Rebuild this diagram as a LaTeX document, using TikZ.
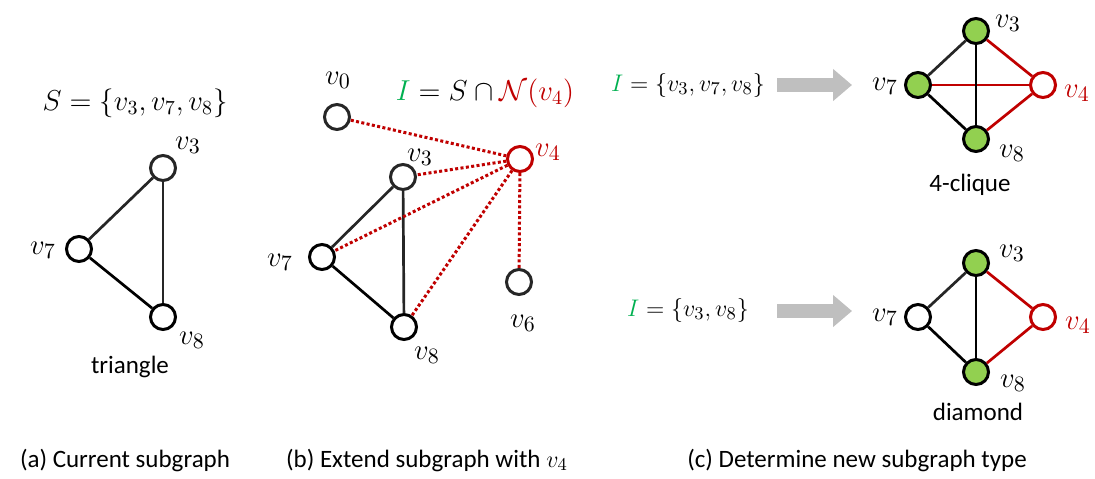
\documentclass[tikz,border=0pt]{standalone}
\usepackage{fontspec}
\setmainfont{Carlito}
\usetikzlibrary{arrows.meta}
\definecolor{nred}{HTML}{C00000}
\definecolor{ngreen}{HTML}{92D050}
\definecolor{igreen}{HTML}{00B050}
\definecolor{agray}{HTML}{BFBFBF}
\definecolor{egray}{HTML}{262626}
\begin{document}
\begin{tikzpicture}[x=0.5pt,y=-0.5pt,
  vtx/.style={circle,draw=egray,line width=1.5pt,minimum size=12.5pt,inner sep=0pt,fill=white},
  hit/.style={vtx,fill=ngreen},
  newv/.style={vtx,draw=nred},
  lab/.style={inner sep=0pt,font=\fontsize{15}{17}\selectfont},
  txt/.style={inner sep=0pt,font=\fontsize{12.5}{15}\selectfont},
  settxt/.style={inner sep=0pt,font=\fontsize{14}{16}\selectfont},
  edge/.style={egray,line width=1.35pt},
  redge/.style={nred,line width=1.35pt},
  dedge/.style={nred,line width=1.5pt,dash pattern=on 1.5pt off 1.2pt},
  bigarrow/.style={agray,line width=7pt,-{Triangle[length=9.5pt,width=15.5pt]}}]

  \useasboundingbox (0,0) rectangle (1095,478);

  % (a) current subgraph
  \node[settxt] (sset) at (135,103) {$S=\{v_3,v_7,v_8\}$};
  \node[vtx] (a3) at (163,168) {};
  \node[vtx,draw=black] (a7) at (79,249) {};
  \node[vtx,draw=black] (a8) at (163,317) {};
  \node[lab] (la3) at (188,145) {$v_3$};
  \node[lab] (la7) at (43,250) {$v_7$};
  \node[lab] (la8) at (192,340) {$v_8$};
  \draw[edge] (a3) -- (a7);
  \draw[edge] (a3) -- (a8);
  \draw[edge,black] (a7) -- (a8);
  \node[txt] (tri) at (130,367) {triangle};

  % (b) extend with v4
  \node[settxt] (iset) at (485,93)
    {$\textcolor{igreen}{I}=S\cap\textcolor{nred}{\mathcal{N}(v_4)}$};
  \node[vtx] (b0) at (337,117) {};
  \node[newv] (b4) at (520,159) {};
  \node[vtx] (b3) at (403,177) {};
  \node[vtx,draw=black] (b7) at (322,257) {};
  \node[vtx,draw=black] (b8) at (404,327) {};
  \node[vtx] (b6) at (519,282) {};
  \node[lab] (lb0) at (338,80) {$v_0$};
  \node[lab,text=nred] (lb4) at (548,152) {$v_4$};
  \node[lab] (lb3) at (420,157) {$v_3$};
  \node[lab] (lb7) at (280,262) {$v_7$};
  \node[lab] (lb8) at (427,355) {$v_8$};
  \node[lab] (lb6) at (523,323) {$v_6$};
  \draw[edge] (b3) -- (b7);
  \draw[edge] (b3) -- (b8);
  \draw[edge,black] (b7) -- (b8);
  \foreach \v in {b0,b3,b7,b8,b6}
    \draw[dedge] (b4) -- (\v);

  % (c) top: 4-clique
  \node[settxt,font=\fontsize{13}{15}\selectfont] (ia) at (688,85)
    {$\textcolor{igreen}{I}=\{v_3,v_7,v_8\}$};
  \coordinate (sa) at (777,85);
  \coordinate (ea) at (852,85);
  \draw[bigarrow] (sa) -- (ea);
  \node[hit,draw=black] (c3) at (976,31) {};
  \node[hit,draw=black] (c7) at (918,85) {};
  \node[newv] (c4) at (1043,85) {};
  \node[hit,draw=black] (c8) at (976,139) {};
  \node[lab] (lc3) at (1008,23) {$v_3$};
  \node[lab] (lc7) at (885,86) {$v_7$};
  \node[lab,text=nred] (lc4) at (1077,93) {$v_4$};
  \node[lab] (lc8) at (1012,153) {$v_8$};
  \draw[redge] (c7) -- (c4);
  \draw[redge] (c3) -- (c4);
  \draw[redge] (c8) -- (c4);
  \draw[edge] (c3) -- (c7);
  \draw[edge,black] (c3) -- (c8);
  \draw[edge,black] (c7) -- (c8);
  \node[txt] (clq) at (970,185) {4-clique};

  % (c) bottom: diamond
  \node[settxt,font=\fontsize{13}{15}\selectfont] (ib) at (688,310)
    {$\textcolor{igreen}{I}=\{v_3,v_8\}$};
  \coordinate (sb) at (777,311);
  \coordinate (eb) at (852,311);
  \draw[bigarrow] (sb) -- (eb);
  \node[hit,draw=black] (d3) at (976,263) {};
  \node[vtx,draw=black] (d7) at (918,317) {};
  \node[newv] (d4) at (1043,317) {};
  \node[hit,draw=black] (d8) at (976,372) {};
  \node[lab] (ld3) at (1012,253) {$v_3$};
  \node[lab] (ld7) at (885,317) {$v_7$};
  \node[lab,text=nred] (ld4) at (1078,325) {$v_4$};
  \node[lab] (ld8) at (1013,383) {$v_8$};
  \draw[redge] (d3) -- (d4);
  \draw[redge] (d8) -- (d4);
  \draw[edge] (d3) -- (d7);
  \draw[edge,black] (d3) -- (d8);
  \draw[edge,black] (d7) -- (d8);
  \node[txt] (dia) at (978,412) {diamond};

  % captions
  \node[txt] (capa) at (125,460) {(a) Current subgraph};
  \node[txt] (capb) at (427,460) {(b) Extend subgraph with $v_4$};
  \node[txt] (capc) at (857,460) {(c) Determine new subgraph type};

\end{tikzpicture}
\end{document}
